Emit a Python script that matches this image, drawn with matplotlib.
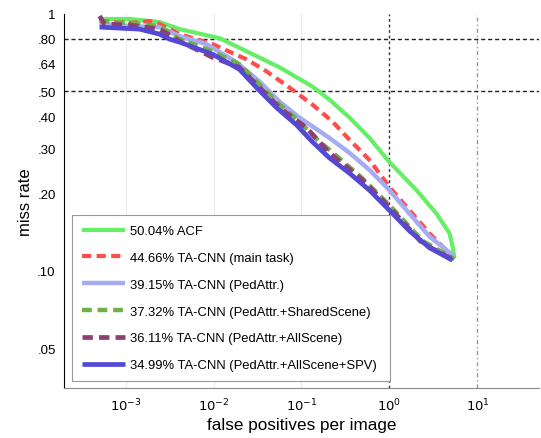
import numpy as np
import matplotlib
matplotlib.use("Agg")
import matplotlib.pyplot as plt

plt.rcParams['font.family'] = ['Liberation Sans', 'DejaVu Sans']

# miss rate vs fppi
acf_fppi = [5.07e-4, 1.11e-3, 2.43e-3, 4.11e-3, 1.17e-2, 2.37e-2, 5.62e-2, 0.133, 0.208,
            0.351, 0.593, 1.0, 2.03, 3.42, 4.81, 5.20, 5.48]
acf_mr = [0.956, 0.956, 0.930, 0.873, 0.805, 0.716, 0.620, 0.522, 0.464,
          0.395, 0.329, 0.265, 0.206, 0.167, 0.140, 0.125, 0.112]

main_fppi = [5.07e-4, 1.11e-3, 1.87e-3, 2.43e-3, 4.11e-3, 9.75e-3, 2.37e-2, 4.00e-2, 7.31e-2,
             0.133, 0.225, 0.351, 0.593, 1.0, 1.69, 2.85, 4.44, 5.48]
main_mr = [0.939, 0.922, 0.939, 0.914, 0.835, 0.763, 0.666, 0.598, 0.517,
           0.444, 0.381, 0.324, 0.270, 0.212, 0.172, 0.140, 0.120, 0.112]

ped_fppi = [5.07e-4, 1.11e-3, 2.43e-3, 4.11e-3, 8.32e-3, 1.82e-2, 3.33e-2, 5.62e-2, 0.0948,
            0.208, 0.351, 0.593, 1.0, 1.69, 2.85, 4.81, 5.48]
ped_mr = [0.914, 0.897, 0.889, 0.820, 0.763, 0.649, 0.546, 0.456, 0.395,
          0.329, 0.288, 0.247, 0.206, 0.167, 0.136, 0.118, 0.112]

shared_fppi = [5.07e-4, 1.11e-3, 2.43e-3, 4.11e-3, 9.75e-3, 1.97e-2, 3.60e-2, 5.62e-2,
               0.0948, 0.160, 0.208, 0.493, 1.0, 2.37, 5.48]
shared_mr = [0.939, 0.922, 0.897, 0.798, 0.716, 0.637, 0.517, 0.444,
             0.381, 0.318, 0.296, 0.229, 0.180, 0.131, 0.111]

all_fppi = [5.07e-4, 5.77e-4, 1.11e-3, 2.43e-3, 4.11e-3, 9.75e-3, 1.97e-2, 3.08e-2,
            5.62e-2, 0.114, 0.208, 0.493, 1.0, 2.37, 5.48]
all_mr = [0.982, 0.914, 0.906, 0.873, 0.784, 0.678, 0.620, 0.532,
          0.432, 0.360, 0.288, 0.226, 0.177, 0.128, 0.110]

spv_fppi = [5.07e-4, 1.44e-3, 2.43e-3, 3.16e-3, 4.11e-3, 9.75e-3, 1.97e-2, 3.08e-2, 5.20e-2,
            8.77e-2, 0.133, 0.208, 0.351, 0.593, 1.0, 1.69, 2.85, 5.20]
spv_mr = [0.889, 0.873, 0.835, 0.798, 0.777, 0.697, 0.609, 0.517, 0.432,
          0.370, 0.318, 0.275, 0.240, 0.206, 0.172, 0.143, 0.123, 0.110]

labels = ["50.04% ACF",
          "44.66% TA-CNN (main task)",
          "39.15% TA-CNN (PedAttr.)",
          "37.32% TA-CNN (PedAttr.+SharedScene)",
          "36.11% TA-CNN (PedAttr.+AllScene)",
          "34.99% TA-CNN (PedAttr.+AllScene+SPV)"]

yticks = [1, 0.80, 0.64, 0.50, 0.40, 0.30, 0.20, 0.10, 0.05]
ytick_labels = ["1", ".80", ".64", ".50", ".40", ".30", ".20", ".10", ".05"]
xticks = [1e-3, 1e-2, 1e-1, 1e0, 1e1]
xtick_labels = [r"$10^{-3}$", r"$10^{-2}$", r"$10^{-1}$", r"$10^{0}$", r"$10^{1}$"]

fig = plt.figure(figsize=(5.41, 4.39), dpi=100)
ax = fig.add_axes([0.1183, 0.1139, 0.878, 0.852])
ax.set_xscale("log"); ax.set_yscale("log")
ax.set_xlim(2e-4, 50); ax.set_ylim(0.035, 1)

# grid lines (matlab style)
for v in [1e-3, 1e-2, 1e-1]:
    ax.axvline(v, color="#ececec", lw=0.8, zorder=0)
ax.axvline(1, color="#333333", lw=1.0, ls=(0, (2, 2)), zorder=0)
ax.axvline(10, color="#999999", lw=1.0, ls=(0, (3, 2, 1, 2)), zorder=0)
for v in [0.8, 0.5]:
    ax.axhline(v, color="#222222", lw=1.0, ls=(0, (3, 2)), zorder=0)

series = [
    (acf_fppi, acf_mr, "#66ee66", "-", 3.0),
    (main_fppi, main_mr, "#ff4d4d", (0, (2.2, 1.3)), 3.0),
    (ped_fppi, ped_mr, "#a6acf2", "-", 3.2),
    (shared_fppi, shared_mr, "#72b044", (0, (2.2, 1.3)), 3.2),
    (all_fppi, all_mr, "#8e3f74", (0, (2.2, 1.3)), 3.4),
    (spv_fppi, spv_mr, "#5448d4", "-", 3.4),
]
for (fx, my, c, ls, lw), lab in zip(series, labels):
    ax.plot(fx, my, color=c, ls=ls, lw=lw, label=lab, solid_capstyle="butt",
            solid_joinstyle="round")

ax.set_yticks(yticks)
ax.set_yticklabels(ytick_labels)
ax.set_xticks(xticks)
ax.set_xticklabels(xtick_labels)
ax.minorticks_off()
ax.tick_params(axis="both", length=0, labelsize=9.5)
ax.tick_params(axis="x", pad=6)
ax.tick_params(axis="y", pad=6)

for s in ["top", "right"]:
    ax.spines[s].set_visible(False)
ax.spines["left"].set_color("black")
ax.spines["bottom"].set_color("#888888")

ax.set_xlabel("false positives per image", fontsize=12.3, labelpad=3)
ax.set_ylabel("miss rate", fontsize=12, labelpad=3)

leg = ax.legend(loc="lower left", bbox_to_anchor=(0.017, 0.019, 0.669, 0.44),
                mode="expand", borderaxespad=0, fontsize=9.4, fancybox=False,
                edgecolor="#999999", framealpha=1, handlelength=3.3,
                handletextpad=0.4, labelspacing=1.12, borderpad=0.75)
leg.get_frame().set_linewidth(0.8)

fig.savefig("out.png", dpi=100)
